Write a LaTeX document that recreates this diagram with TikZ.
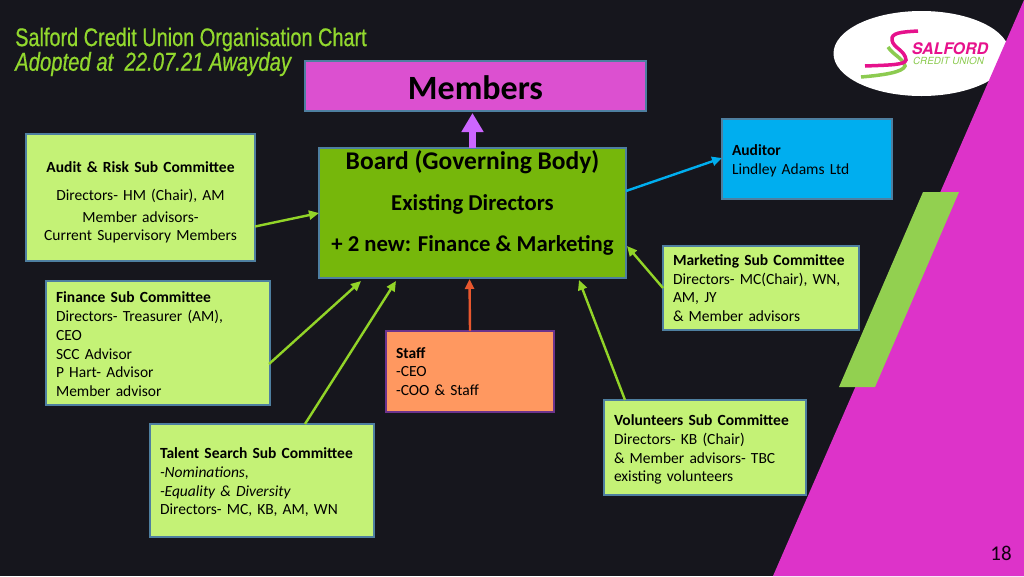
\documentclass[tikz,border=0pt]{standalone}
\usepackage{fontspec}
\setmainfont{Carlito}
\newfontfamily\titlefont[FakeStretch=0.78,FakeBold=0.6]{Liberation Sans}
\newfontfamily\logofont{TeX Gyre Heros}
\usetikzlibrary{arrows.meta, positioning, shapes.geometric}
\definecolor{slidebg}{HTML}{16161D}
\definecolor{slidepink}{HTML}{DD33C9}
\definecolor{stripegreen}{HTML}{92D050}
\definecolor{titlegreen}{HTML}{92D82E}
\definecolor{memberpink}{HTML}{DC50D0}
\definecolor{boardgreen}{HTML}{76B70B}
\definecolor{subgreen}{HTML}{C4F276}
\definecolor{auditblue}{HTML}{00AEEF}
\definecolor{staffrange}{HTML}{FF9860}
\definecolor{boxedge}{HTML}{4E7FA0}
\definecolor{arrowgreen}{HTML}{92D428}
\definecolor{arrowred}{HTML}{E8572E}
\definecolor{arrowviolet}{HTML}{CC66FF}
\definecolor{logopink}{HTML}{E6128C}
\definecolor{logogreen}{HTML}{8CCB50}
\newcommand{\pushtext}[1]{\rule{0pt}{#1pt}}
\tikzset{
    chartbox/.style={draw=boxedge, line width=1.4pt, outer sep=0pt, inner xsep=10pt, inner ysep=0pt, text=black},
    subbox/.style={chartbox, fill=subgreen, align=left, font=\fontsize{15.5}{18.7}\selectfont},
    feed/.style={draw=arrowgreen, line width=2.4pt, -{Triangle[length=10pt,width=9pt]}},
    titletext/.style={anchor=west, inner sep=0pt, text=titlegreen}
}

\begin{document}
\begin{tikzpicture}[x=1pt,y=-1pt]
    \useasboundingbox (0,0) rectangle (1024,576);
    \fill[slidebg] (0,0) rectangle (1024,576);

    % The logo oval, then the slide corner over it
    \fill[white] (921.5,53.5) ellipse (88 and 42.5);
    \draw[logogreen, line width=3.5pt] (888,47) .. controls (893,55) and (903,58) .. (905,66) .. controls (903,72) and (885,75) .. (861,77);
    \draw[logopink, line width=3.5pt] (918,31) .. controls (900,32) and (891,33) .. (892,40) .. controls (893,48) and (905,50) .. (906,60) .. controls (905,65) and (890,65) .. (865,66);
    \node[inner sep=0pt, text=logopink, font=\logofont\fontsize{16}{16}\selectfont\bfseries\itshape] (salford) at (950,48.5) {SALFORD};
    \node[inner sep=0pt, text=logogreen, font=\logofont\fontsize{9.8}{10}\selectfont\itshape] (creditunion) at (948.5,60.5) {CREDIT UNION};
    \fill[slidepink] (1024,0) -- (773,576) -- (1024,576) -- cycle;
    \fill[stripegreen] (923,192) -- (959,192) -- (875,387) -- (839,387) -- cycle;

    % Title
    \node[titletext, font=\titlefont\fontsize{25.5}{26}\selectfont] (title) at (15,39.5) {Salford Credit Union Organisation Chart};
    \node[titletext, font=\titlefont\fontsize{26}{26}\selectfont\itshape] (adopted) at (15,64) {Adopted at\ \ 22.07.21 Awayday};

    % Boxes
    \node[chartbox, fill=memberpink, minimum width=341pt, minimum height=50pt, font=\fontsize{34}{36}\selectfont\bfseries] (members) at (475.5,86) {\raisebox{-13.5pt}[0pt][0pt]{Members}};
    \node[chartbox, fill=boardgreen, minimum width=307pt, minimum height=130pt, inner xsep=0pt, align=center, font=\fontsize{25.5}{28}\selectfont\bfseries] (board) at (472.5,213)
        {Board (Governing Body)\\[13pt]{\fontsize{22.7}{25}\selectfont Existing Directors}\\[13pt]{\fontsize{22.7}{25}\selectfont + 2 new: Finance \& Marketing}\\[-5pt]\mbox{}};
    \node[chartbox, fill=auditblue, minimum width=170pt, minimum height=80pt, text width=150pt, align=left, font=\fontsize{15.5}{18.7}\selectfont] (auditor) at (807,159) {\pushtext{15}\textbf{Auditor}\\Lindley Adams Ltd};
    \node[subbox, minimum width=229pt, minimum height=127pt, inner xsep=0pt, text width=229pt, align=center] (audit) at (140.5,197.5)
        {\pushtext{21}\textbf{Audit \& Risk Sub Committee}\\[9pt]Directors- HM (Chair), AM\\[3pt]Member advisors-\\Current Supervisory Members};
    \node[subbox, minimum width=224pt, minimum height=124pt, text width=204pt] (finance) at (158,343)
        {\pushtext{13.5}\textbf{Finance Sub Committee}\\Directors- Treasurer (AM),\\CEO\\SCC Advisor\\P Hart- Advisor\\Member advisor};
    \node[subbox, minimum width=196pt, minimum height=84pt, text width=176pt] (marketing) at (761,288)
        {\textbf{Marketing Sub Committee}\\Directors- MC(Chair), WN,\\AM, JY\\\& Member advisors};
    \node[chartbox, fill=staffrange, draw=violet!60!boxedge, minimum width=168pt, minimum height=81pt, text width=148pt, align=left, font=\fontsize{15.5}{18.7}\selectfont] (staff) at (470,371.5)
        {\textbf{Staff}\\-CEO\\-COO \& Staff};
    \node[subbox, minimum width=224pt, minimum height=113pt, text width=204pt] (talent) at (262,480.5)
        {\pushtext{14.5}\textbf{Talent Search Sub Committee}\\\textit{-Nominations,}\\\textit{-Equality \& Diversity}\\Directors- MC, KB, AM, WN};
    \node[subbox, minimum width=202pt, minimum height=95pt, text width=182pt] (volunteers) at (705,447.5)
        {\pushtext{15}\textbf{Volunteers Sub Committee}\\Directors- KB (Chair)\\\& Member advisors- TBC\\existing volunteers};

    % Arrows
    \draw[arrowviolet, line width=7pt, -{Triangle[length=19pt,width=21pt]}] (board.north) -- ([xshift=-3pt,yshift=-2pt]members.south);
    \draw[feed] ([yshift=-29pt]audit.east) -- (board.west);
    \draw[feed, draw=auditblue] ([yshift=22pt]board.east) -- ([yshift=1pt]auditor.west);
    \draw[feed] ([xshift=-1pt,yshift=-21pt]finance.east) -- ([xshift=42pt,yshift=-3pt]board.south west);
    \draw[feed] ([xshift=43pt]talent.north) -- ([xshift=77pt,yshift=-3pt]board.south west);
    \draw[feed, draw=arrowred] (staff.north) -- ([xshift=-3pt,yshift=-1pt]board.south);
    \draw[feed] ([xshift=-80pt]volunteers.north) -- ([xshift=-47pt,yshift=-2pt]board.south east);
    \draw[feed] (marketing.west) -- ([xshift=1pt,yshift=-33pt]board.east);

    % Page number
    \node[inner sep=0pt, text=black!85!violet, font=\fontsize{21}{22}\selectfont] (pagenum) at (1001,553) {18};
\end{tikzpicture}
\end{document}
